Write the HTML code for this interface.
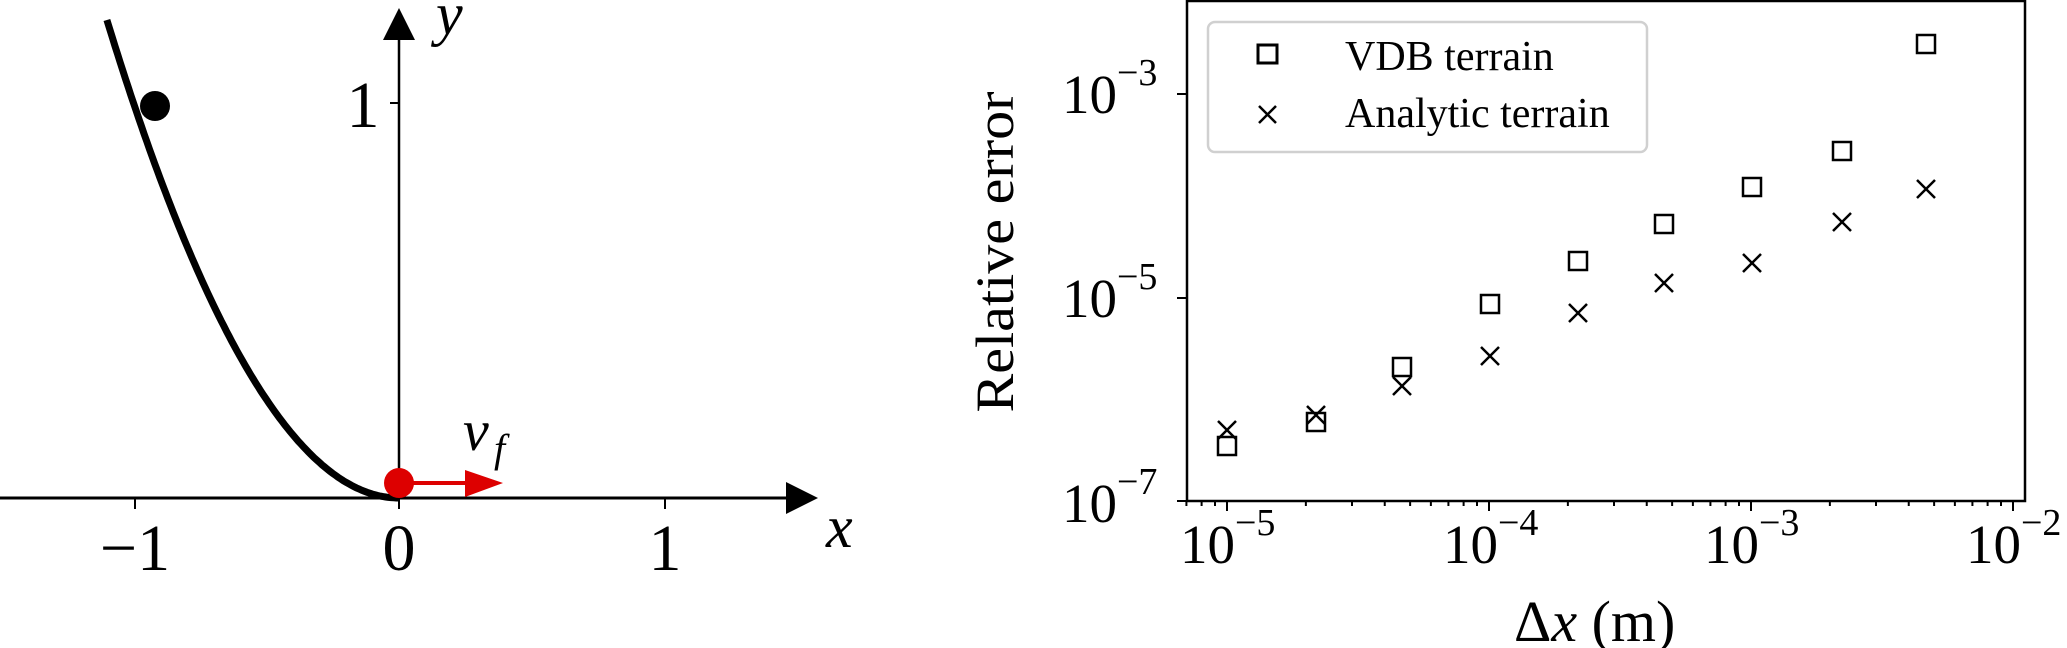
<!DOCTYPE html>
<html><head><meta charset="utf-8"><style>
html,body{margin:0;padding:0;background:#fff;}
svg{display:block;}
text{font-family:"Liberation Serif","DejaVu Serif",serif;fill:#000;}
.it{font-style:italic;}
</style></head><body>
<svg width="2067" height="648" viewBox="0 0 2067 648" xmlns="http://www.w3.org/2000/svg">
<!-- Left plot -->
<line x1="0" y1="498" x2="790" y2="498" stroke="#000" stroke-width="3"/>
<polygon points="786,482 818,498 786,514" fill="#000"/>
<line x1="399" y1="498" x2="399" y2="38" stroke="#000" stroke-width="2.5"/>
<polygon points="383,40 399,8 415,40" fill="#000"/>
<line x1="135" y1="498" x2="135" y2="509" stroke="#000" stroke-width="2"/>
<line x1="399" y1="498" x2="399" y2="509" stroke="#000" stroke-width="2"/>
<line x1="665" y1="498" x2="665" y2="509" stroke="#000" stroke-width="2"/>
<line x1="390" y1="103" x2="399" y2="103" stroke="#000" stroke-width="2"/>
<text x="135" y="570" font-size="66" text-anchor="middle">−1</text>
<text x="399" y="570" font-size="66" text-anchor="middle">0</text>
<text x="665" y="570" font-size="66" text-anchor="middle">1</text>
<text x="363" y="127" font-size="66" text-anchor="middle">1</text>
<text x="826" y="547" font-size="60" class="it">x</text>
<text x="436" y="34" font-size="60" class="it">y</text>
<path id="curve" d="" fill="none" stroke="#000" stroke-width="7" stroke-linecap="butt"/>
<circle cx="155" cy="106" r="15" fill="#000"/>
<line x1="399" y1="483" x2="470" y2="483" stroke="#dd0000" stroke-width="4"/>
<polygon points="465,470 503,483 465,497" fill="#dd0000"/>
<circle cx="399" cy="483" r="15" fill="#dd0000"/>
<text x="463" y="450" font-size="58" class="it">v</text>
<text x="494" y="462" font-size="40" class="it">f</text>

<!-- Right plot -->
<rect x="1187" y="1" width="838" height="500" fill="none" stroke="#000" stroke-width="2.5"/>
<g id="xticks" stroke="#000" stroke-width="2"></g>
<line x1="1177" y1="94" x2="1187" y2="94" stroke="#000" stroke-width="2"/>
<line x1="1177" y1="298" x2="1187" y2="298" stroke="#000" stroke-width="2"/>
<line x1="1177" y1="501" x2="1187" y2="501" stroke="#000" stroke-width="2"/>
<g font-size="55">
<text x="1062" y="113">10<tspan font-size="38" dy="-28">−3</tspan></text>
<text x="1062" y="317">10<tspan font-size="38" dy="-28">−5</tspan></text>
<text x="1062" y="522">10<tspan font-size="38" dy="-28">−7</tspan></text>
<text x="1180" y="563">10<tspan font-size="38" dy="-28">−5</tspan></text>
<text x="1443" y="563">10<tspan font-size="38" dy="-28">−4</tspan></text>
<text x="1704" y="563">10<tspan font-size="38" dy="-28">−3</tspan></text>
<text x="1966" y="563">10<tspan font-size="38" dy="-28">−2</tspan></text>
</g>
<text x="1514" y="641" font-size="58">Δ<tspan class="it">x</tspan> (m)</text>
<text transform="translate(1013,252) rotate(-90)" font-size="54" text-anchor="middle" textLength="321" lengthAdjust="spacingAndGlyphs">Relative error</text>
<rect x="1208" y="22" width="439" height="130" rx="7" fill="#fff" stroke="#d0d0d0" stroke-width="2.5"/>
<rect x="1258" y="45" width="19" height="18" fill="none" stroke="#000" stroke-width="3"/>
<path d="M1259,106 L1276,123 M1276,106 L1259,123" stroke="#000" stroke-width="2.5"/>
<text x="1345" y="70" font-size="42">VDB terrain</text>
<text x="1345" y="127" font-size="42">Analytic terrain</text>
<g id="pts"></g>
</svg>
<script>
// curve y=x^2
var d="";for(var i=0;i<=110;i++){var xd=-1.1+i*0.01;var px=399+xd*265.5;var py=498-xd*xd*395;d+=(i?"L":"M")+px.toFixed(1)+","+py.toFixed(1);}
document.getElementById("curve").setAttribute("d",d);
var g=document.getElementById("xticks"),s="";
for(var e=-6;e<=-2;e++){for(var k=1;k<10;k++){var x=1227+262*((e+5)+Math.log10(k));if(x<1186||x>2026)continue;var L=(k==1)?10:5;s+='<line x1="'+x+'" y1="501" x2="'+x+'" y2="'+(501+L)+'"/>';}}
g.innerHTML=s;
var xs=[1227,1316,1402,1490,1578,1664,1752,1842,1926];
var sq=[446,422,367,304,261,224,187,151,44];
var cr=[430,415,386,356,313,283,263,222,189];
var p="";
for(var i=0;i<9;i++){p+='<rect x="'+(xs[i]-9)+'" y="'+(sq[i]-9)+'" width="18" height="18" fill="none" stroke="#000" stroke-width="2.5"/>';
var c=cr[i];p+='<path d="M'+(xs[i]-9)+','+(c-9)+' L'+(xs[i]+9)+','+(c+9)+' M'+(xs[i]+9)+','+(c-9)+' L'+(xs[i]-9)+','+(c+9)+'" stroke="#000" stroke-width="2.5"/>';}
document.getElementById("pts").innerHTML=p;
</script>
</body></html>
